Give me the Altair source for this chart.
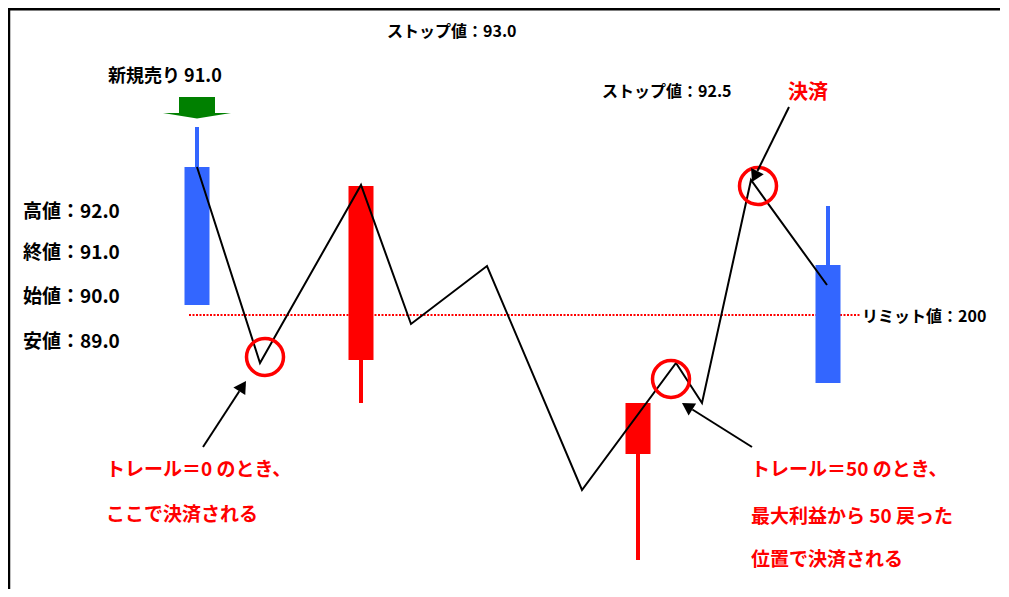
import math
import altair as alt
import pandas as pd

# ---- data (canvas units; y grows downward) ----
# candles: centre, body top/bottom, wick top/bottom, colour
candle_x = [197, 361, 638, 828]
body_top = [167, 186, 403, 265]
body_bot = [305, 360, 454, 383]
wick_top = [127, 186, 403, 206]
wick_bot = [305, 403, 560, 383]
candle_col = ["#3366FF", "#FF0000", "#FF0000", "#3366FF"]
half_w = 12.5

# price path
path_x = [197, 260, 361, 411, 487, 582, 676, 702, 751, 827]
path_y = [167, 363, 185, 324, 266, 490, 363, 403, 180, 285]

# red circles
circ_x = [265, 758, 671]
circ_y = [357, 186, 379]

# black arrows (from -> tip)
arr_x0 = [203, 752, 789]
arr_y0 = [447, 447, 107]
arr_x1 = [246, 682, 752]
arr_y1 = [381, 403, 182]

# limit line
limit_x = [189, 860]
limit_y = 315

# green entry arrow
g_shaft_x = [179, 215]
g_shaft_y = [97, 113]
g_head_x = [163, 197, 231]
g_head_y = [113, 113, 113]
g_head_y2 = [113, 118.5, 113]

# labels
lab_text = ["新規売り 91.0", "ストップ値：93.0", "ストップ値：92.5", "決済",
            "高値：92.0", "終値：91.0", "始値：90.0", "安値：89.0",
            "リミット値：200",
            "トレール＝0 のとき、", "ここで決済される",
            "トレール＝50 のとき、", "最大利益から 50 戻った", "位置で決済される"]
lab_x = [108, 387, 602, 788, 23, 23, 23, 23, 862, 106, 106, 751, 751, 751]
lab_y = [77, 32, 92, 93, 212, 253, 297, 342, 317, 470, 515, 470, 517, 560]
lab_size = [18, 16, 16, 20, 19, 19, 19, 19, 16, 19, 19, 19, 19, 19]
lab_col = ["#000000"] * 9 + ["#FF0000"] * 5
lab_col[3] = "#FF0000"

# ---- scales ----
W, H = 992, 581
xs = alt.Scale(domain=[8, 8 + W], nice=False, zero=False)
ys = alt.Scale(domain=[8, 8 + H], nice=False, zero=False, reverse=True)
X = lambda f: alt.X(f, type="quantitative", scale=xs, axis=None)
Y = lambda f: alt.Y(f, type="quantitative", scale=ys, axis=None)

candles = pd.DataFrame({
    "x": candle_x, "xl": [c - half_w for c in candle_x], "xr": [c + half_w for c in candle_x],
    "bt": body_top, "bb": body_bot, "wt": wick_top, "wb": wick_bot, "col": candle_col,
})
wicks = alt.Chart(candles).mark_rule(strokeWidth=4).encode(
    x=X("x"), y=Y("wt"), y2="wb", color=alt.Color("col:N", scale=None))
bodies = alt.Chart(candles).mark_rect().encode(
    x=X("xl"), x2="xr", y=Y("bt"), y2="bb", color=alt.Color("col:N", scale=None))

limit = alt.Chart(pd.DataFrame({"x": [limit_x[0]], "x2": [limit_x[1]], "y": [limit_y]})).mark_rule(
    color="#FF0000", strokeWidth=2, strokeDash=[2, 1.5]).encode(x=X("x"), x2="x2", y=Y("y"))

path = alt.Chart(pd.DataFrame({"x": path_x, "y": path_y, "i": range(len(path_x))})).mark_line(
    color="black", strokeWidth=2).encode(x=X("x"), y=Y("y"), order="i:Q")

circles = alt.Chart(pd.DataFrame({"x": circ_x, "y": circ_y})).mark_point(
    shape="circle", size=1369, filled=False, color="#FF0000", strokeWidth=3.5, opacity=1).encode(
    x=X("x"), y=Y("y"))

# arrows
tri_size = 200
r = math.sqrt(tri_size) / 2
h = math.sqrt(3) * r / 2
rows_l, rows_h = [], []
for x0, y0, x1, y1 in zip(arr_x0, arr_y0, arr_x1, arr_y1):
    dx, dy = x1 - x0, y1 - y0
    L = math.hypot(dx, dy)
    ux, uy = dx / L, dy / L
    rows_l.append({"x": x0, "y": y0, "x2": x1 - ux * 2 * h, "y2": y1 - uy * 2 * h})
    ang = math.degrees(math.atan2(dx, -dy)) % 360
    rows_h.append({"x": x1 - ux * h, "y": y1 - uy * h, "a": ang})
arr_lines = alt.Chart(pd.DataFrame(rows_l)).mark_rule(color="black", strokeWidth=2).encode(
    x=X("x"), y=Y("y"), x2="x2", y2="y2")
arr_heads = alt.Chart(pd.DataFrame(rows_h)).mark_point(
    shape="triangle-up", size=tri_size, filled=True, color="black", opacity=1).encode(
    x=X("x"), y=Y("y"), angle=alt.Angle("a:Q", scale=None))

# green arrow
g_shaft = alt.Chart(pd.DataFrame({"x": [g_shaft_x[0]], "x2": [g_shaft_x[1]],
                                  "y": [g_shaft_y[0]], "y2": [g_shaft_y[1]]})).mark_rect(
    color="#008000").encode(x=X("x"), x2="x2", y=Y("y"), y2="y2")
g_head = alt.Chart(pd.DataFrame({"x": g_head_x, "y": g_head_y, "y2": g_head_y2})).mark_area(
    color="#008000", opacity=1).encode(x=X("x"), y=Y("y"), y2="y2")

# frame
frame_top = alt.Chart(pd.DataFrame({"x": [8], "x2": [8 + W], "y": [9]})).mark_rule(
    color="black", strokeWidth=3).encode(x=X("x"), x2="x2", y=Y("y"))
frame_left = alt.Chart(pd.DataFrame({"x": [9], "y": [8], "y2": [8 + H]})).mark_rule(
    color="black", strokeWidth=2.5).encode(x=X("x"), y=Y("y"), y2="y2")

labels = alt.Chart(pd.DataFrame({"t": lab_text, "x": lab_x, "y": lab_y,
                                 "s": lab_size, "c": lab_col})).mark_text(
    align="left", baseline="middle", font="Noto Sans CJK JP", fontWeight="bold").encode(
    x=X("x"), y=Y("y"), text="t:N",
    size=alt.Size("s:Q", scale=None), color=alt.Color("c:N", scale=None))

chart = alt.layer(
    frame_top, frame_left, limit, wicks, bodies, path, circles,
    arr_lines, arr_heads, g_shaft, g_head, labels
).properties(
    width=W, height=H, autosize=alt.AutoSizeParams(type="none"), padding=0
).configure_view(stroke=None).configure(background="white")

chart.save("out.html", embed_options={"renderer": "svg", "actions": False})
